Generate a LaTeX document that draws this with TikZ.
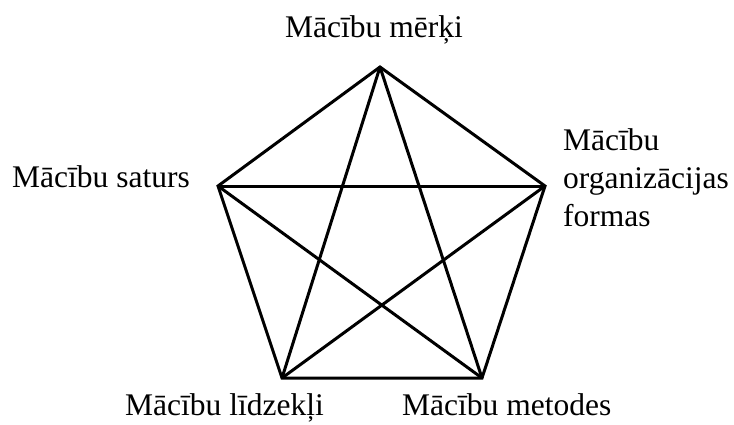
\documentclass[tikz,border=0pt]{standalone}
\usepackage{fontspec}
\setmainfont{Liberation Serif}
\begin{document}
\begin{tikzpicture}[x=1pt,y=-1pt,
  lbl/.style={inner sep=0pt,anchor=base west,font=\fontsize{31.5}{38}\selectfont},
  edge/.style={line width=3pt,line join=miter}]
\useasboundingbox (0,0) rectangle (734,424);
\coordinate (A) at (380,67);
\coordinate (B) at (545,186);
\coordinate (C) at (482,378);
\coordinate (D) at (282,378);
\coordinate (E) at (218,186);
\draw[edge] (A) -- (B) -- (C) -- (D) -- (E) -- cycle;
\draw[edge] (A) -- (C);
\draw[edge] (A) -- (D);
\draw[edge] (B) -- (D);
\draw[edge] (B) -- (E);
\draw[edge] (C) -- (E);
\node[lbl] (tA) at (285,37) {Mācību mērķi};
\node[lbl] (tE) at (12,187) {Mācību saturs};
\node[lbl,align=left,anchor=north west] (tB) at (563,128) {Mācību\\organizācijas\\formas};
\node[lbl] (tD) at (125,415) {Mācību līdzekļi};
\node[lbl] (tC) at (402,415) {Mācību metodes};
\end{tikzpicture}
\end{document}
